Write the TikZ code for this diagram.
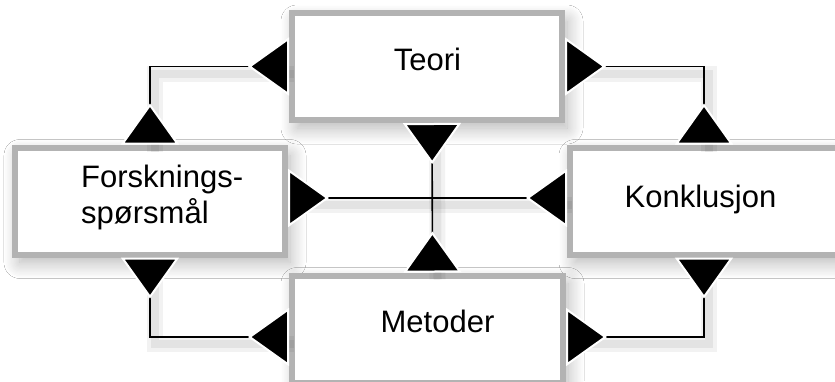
\documentclass[tikz,border=0pt]{standalone}
\usepackage{fontspec}
\setmainfont{Liberation Sans}
\usetikzlibrary{arrows.meta,shadows.blur}
\definecolor{boxgray}{HTML}{B3B3B3}
\begin{document}
\begin{tikzpicture}[x=1bp,y=-1bp,
  box/.style={draw=boxgray, line width=6bp, fill=white, inner sep=0pt,
    minimum width=270bp, minimum height=107bp,
    blur shadow={shadow xshift=5bp, shadow yshift=-8bp, shadow blur radius=16bp, shadow blur steps=14, shadow opacity=30}},
  lbl/.style={inner sep=0pt, font=\fontsize{31bp}{36bp}\selectfont},
  bigtri/.tip={Triangle[reversed, length=41bp, width=58bp, fill=black, color=white, line width=2bp]},
  lshadow/.style={
    preaction={draw=black, arrows=-, line width=16bp, opacity=0.05, transform canvas={xshift=5bp, yshift=-7bp}},
    preaction={draw=black, arrows=-, line width=8bp, opacity=0.06, transform canvas={xshift=5bp, yshift=-7bp}}},
  conn/.style={draw=black, line width=1.6bp, {bigtri}-{bigtri}, lshadow},
]
\useasboundingbox (0,0) rectangle (835,381);
\fill[white] (0,0) rectangle (835,381);

\node[box] (teori) at (427,66.5) {};
\node[box] (forsk) at (150,201) {};
\node[box, minimum width=268bp] (konkl) at (704,201) {};
\node[box, minimum width=271bp] (metoder) at (427.5,329) {};

\draw[conn] (teori.west) -| (forsk.north);
\draw[conn] (teori.east) -| (konkl.north);
\draw[conn] (forsk.south) |- ([yshift=-8bp]metoder.west);
\draw[conn] (konkl.south) |- ([yshift=-8bp]metoder.east);
\draw[conn] ([yshift=3bp]forsk.east) -- ([yshift=3bp]konkl.west);
\draw[conn] ([xshift=5bp]teori.south) -- ([xshift=5bp]metoder.north);

\node[lbl, anchor=base] (tt) at (427.5,70) {Teori};
\node[lbl, anchor=base west, align=left] (ft) at (81,223) {Forsknings-\\spørsmål};
\node[lbl, anchor=base] (kt) at (700.5,207) {Konklusjon};
\node[lbl, anchor=base] (mt) at (437.5,332) {Metoder};
\end{tikzpicture}
\end{document}
